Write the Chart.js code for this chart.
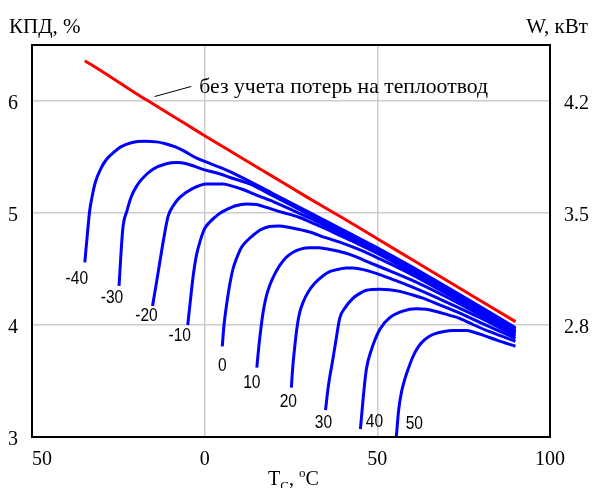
<!DOCTYPE html>
<html>
<head>
<meta charset="utf-8">
<script src="https://cdn.jsdelivr.net/npm/chart.js@4.4.1/dist/chart.umd.min.js"></script>
<style>
html, body { margin: 0; padding: 0; background: #fff; }
</style>
</head>
<body>
<canvas id="chart" width="592" height="497"></canvas>
<script>
// axes
const xTicks = [-50, 0, 50, 100];
const xTickLabels = ['\u200350', '0', '50', '100'];
const leftTicks = [3, 4, 5, 6];
const rightTicks = [2.8, 3.5, 4.2];
const ambientTemps = [-40, -30, -20, -10, 0, 10, 20, 30, 40, 50];

// red: без учета потерь на теплоотвод
const noLoss = [[-34.7, 6.36], [-30, 6.27], [-25, 6.17], [-20, 6.07], [-15, 5.975], [-10, 5.88], [-5, 5.785],
    [0, 5.69], [10, 5.505], [20, 5.32], [30, 5.135], [40, 4.955], [50, 4.77], [60, 4.585], [70, 4.40], [80, 4.215], [90, 4.03]];

// blue: one curve per ambient temperature
const taM40 = [[-34.7, 4.56], [-34.0, 4.80], [-33.3, 5.02], [-32.5, 5.16], [-31.7, 5.27], [-30.0, 5.40], [-28.4, 5.48],
    [-26, 5.55], [-24.3, 5.59], [-21, 5.63], [-17.4, 5.64], [-14, 5.635], [-11.6, 5.62], [-8.5, 5.59], [-5.8, 5.55],
    [-3, 5.50], [0, 5.46], [5, 5.40], [10, 5.33], [20, 5.17], [30, 5.01], [40, 4.85], [50, 4.69], [60, 4.52],
    [70, 4.34], [80, 4.16], [90, 3.975]];
const taM30 = [[-24.8, 4.35], [-23.7, 4.86], [-22.5, 5.02], [-21.2, 5.15], [-19.5, 5.25], [-18.3, 5.30], [-15.0, 5.39],
    [-11.1, 5.44], [-8, 5.45], [-5.3, 5.44], [-0.5, 5.39], [4.3, 5.35], [8, 5.31], [13, 5.26], [20, 5.15], [30, 4.99],
    [40, 4.83], [50, 4.675], [60, 4.505], [70, 4.325], [80, 4.145], [90, 3.965]];
const taM20 = [[-15.1, 4.17], [-14, 4.37], [-13.0, 4.56], [-11.8, 4.78], [-10.6, 4.97], [-9, 5.07], [-7.2, 5.14],
    [-3.4, 5.22], [0.5, 5.26], [5.3, 5.26], [8, 5.24], [11.1, 5.21], [15, 5.16], [20, 5.10], [30, 4.96], [40, 4.81],
    [50, 4.655], [60, 4.49], [70, 4.31], [80, 4.13], [90, 3.95]];
const taM10 = [[-4.9, 4.0], [-4.2, 4.2], [-3.4, 4.42], [-2.4, 4.62], [-1.2, 4.76], [0, 4.86], [1.5, 4.92], [2.9, 4.96],
    [4.5, 5.0], [6.3, 5.03], [9, 5.065], [12.1, 5.08], [15, 5.075], [17.9, 5.05], [22, 5.01], [27.5, 4.96], [32, 4.90],
    [37.1, 4.83], [44, 4.73], [50.6, 4.63], [60, 4.47], [70, 4.29], [80, 4.115], [90, 3.94]];
const ta0 = [[5.1, 3.81], [5.6, 4.0], [6.3, 4.17], [7.2, 4.35], [8.2, 4.50], [9.3, 4.60], [10.6, 4.69], [12.2, 4.75],
    [14.0, 4.80], [16.2, 4.85], [18.8, 4.88], [21.5, 4.885], [24.6, 4.87], [30.4, 4.83], [35, 4.78], [39.1, 4.74],
    [45, 4.67], [50.7, 4.59], [60, 4.45], [70, 4.28], [80, 4.105], [90, 3.93]];
const ta10 = [[15.1, 3.62], [15.5, 3.75], [15.9, 3.87], [16.9, 4.11], [17.8, 4.25], [18.8, 4.35], [20.2, 4.45],
    [21.7, 4.53], [23.5, 4.60], [25.6, 4.65], [28, 4.68], [30.4, 4.69], [33, 4.69], [35.2, 4.68], [38.5, 4.66],
    [42.0, 4.63], [46, 4.58], [50.7, 4.52], [60, 4.40], [70, 4.25], [80, 4.085], [90, 3.92]];
const ta20 = [[25.1, 3.44], [25.5, 3.62], [26.1, 3.81], [26.7, 3.97], [27.5, 4.11], [28.6, 4.21], [29.9, 4.29],
    [31.8, 4.37], [34.3, 4.44], [36.5, 4.48], [39.1, 4.50], [41, 4.51], [43.0, 4.51], [46.5, 4.49], [50.7, 4.45],
    [55, 4.40], [60, 4.34], [70, 4.205], [80, 4.06], [90, 3.90]];
const ta30 = [[35.0, 3.24], [35.8, 3.45], [37.1, 3.69], [38.1, 3.88], [39.1, 4.06], [40.8, 4.16], [43.0, 4.24],
    [44.8, 4.28], [46.8, 4.31], [50.7, 4.32], [53.5, 4.315], [56.5, 4.30], [60, 4.27], [63.2, 4.24], [68, 4.18],
    [72.9, 4.12], [80, 4.02], [90, 3.88]];
const ta40 = [[45.1, 3.07], [45.85, 3.33], [46.8, 3.60], [48.3, 3.78], [50.7, 3.96], [53.6, 4.065], [57.4, 4.124],
    [61.3, 4.145], [64, 4.14], [67.1, 4.12], [70.5, 4.09], [73.8, 4.06], [78, 4.00], [82.5, 3.94], [86, 3.90], [90, 3.855]];
const ta50 = [[55.5, 3.0], [56.17, 3.24], [56.95, 3.395], [57.9, 3.51], [58.86, 3.60], [60.2, 3.71], [61.75, 3.80],
    [63.4, 3.86], [65.1, 3.90], [67, 3.925], [69.0, 3.94], [72, 3.95], [75.8, 3.95], [78, 3.935], [80.6, 3.91],
    [85, 3.86], [90, 3.81]];

const blueCurves = [taM40, taM30, taM20, taM10, ta0, ta10, ta20, ta30, ta40, ta50];

const serif = 'Liberation Serif';
const toPoints = (rows) => rows.map(([x, y]) => ({ x, y }));

const datasets = blueCurves.map((rows, i) => ({
    label: String(ambientTemps[i]),
    data: toPoints(rows),
    borderColor: '#0000ff',
    borderWidth: 3,
    pointRadius: 0,
    showLine: true,
    cubicInterpolationMode: 'monotone'
}));
datasets.push({
    label: 'без учета потерь на теплоотвод',
    data: toPoints(noLoss),
    borderColor: '#ff0000',
    borderWidth: 3,
    pointRadius: 0,
    showLine: true,
    cubicInterpolationMode: 'monotone'
});

// pixel offsets of the temperature labels from the start of each curve
const labelShift = [[-8, 16], [-7, 12], [-6, 10], [-8, 11], [0, 19], [-5, 15], [-3, 14], [-2, 13], [14, -7], [18, -13]];

const decor = {
    id: 'decor',
    afterDatasetsDraw(chart) {
        const { ctx, chartArea: a, scales } = chart;
        ctx.save();

        // frame
        ctx.strokeStyle = '#000';
        ctx.lineWidth = 2;
        ctx.strokeRect(a.left, a.top, a.right - a.left, a.bottom - a.top);

        // temperature labels
        ctx.fillStyle = '#000';
        ctx.font = '19px "Liberation Sans"';
        ctx.textAlign = 'center';
        ctx.textBaseline = 'middle';
        ambientTemps.forEach((t, i) => {
            const p = chart.getDatasetMeta(i).data[0];
            ctx.save();
            ctx.translate(p.x + labelShift[i][0], p.y + labelShift[i][1]);
            ctx.scale(0.82, 1);
            ctx.fillText(String(t), 0, 0);
            ctx.restore();
        });

        // leader + note for the red line
        const x = scales.x, y = scales.y;
        const x0 = x.getPixelForValue(-14.5), y0 = y.getPixelForValue(6.04);
        const x1 = x.getPixelForValue(-3.85), y1 = y.getPixelForValue(6.13);
        ctx.strokeStyle = '#000';
        ctx.lineWidth = 1;
        ctx.beginPath();
        ctx.moveTo(x0, y0);
        ctx.lineTo(x1, y1);
        ctx.stroke();
        ctx.font = '21.7px "' + serif + '"';
        ctx.textAlign = 'left';
        ctx.textBaseline = 'alphabetic';
        ctx.fillText('без учета потерь на теплоотвод', x1 + 8, y1 + 7);

        // axis titles
        ctx.font = '21px "' + serif + '"';
        ctx.fillText('КПД, %', 9, 33);
        ctx.textAlign = 'right';
        ctx.fillText('W, кВт', 588, 33);

        // T_C, °C
        ctx.save();
        ctx.beginPath();
        ctx.rect(0, 440, 592, 48);
        ctx.clip();
        ctx.textAlign = 'left';
        let cx = 268;
        const base = 485;
        ctx.font = '20px "' + serif + '"';
        ctx.fillText('T', cx, base);
        cx += ctx.measureText('T').width;
        ctx.font = '13px "' + serif + '"';
        ctx.fillText('C', cx, base + 5);
        cx += ctx.measureText('C').width;
        ctx.font = '20px "' + serif + '"';
        ctx.fillText(', ', cx, base);
        cx += ctx.measureText(', ').width;
        ctx.font = '13px "' + serif + '"';
        ctx.fillText('o', cx, base - 8);
        cx += ctx.measureText('o').width;
        ctx.font = '20px "' + serif + '"';
        ctx.fillText('C', cx, base);
        ctx.restore();

        ctx.restore();
    }
};

const tickFont = { family: serif, size: 20 };
const gridStyle = { color: '#cccccc', lineWidth: 1.5, drawTicks: false };

new Chart(document.getElementById('chart'), {
    type: 'scatter',
    data: { datasets },
    options: {
        responsive: false,
        animation: false,
        devicePixelRatio: 1,
        layout: { padding: { top: 45, left: 0, right: 0, bottom: 0 } },
        plugins: { legend: { display: false }, tooltip: { enabled: false } },
        scales: {
            x: {
                type: 'linear',
                min: -50,
                max: 100,
                grid: gridStyle,
                border: { display: false },
                afterBuildTicks: (s) => { s.ticks = xTicks.map((v) => ({ value: v })); },
                afterFit: (s) => { s.height = 60; },
                ticks: {
                    font: tickFont,
                    color: '#000',
                    padding: 11,
                    autoSkip: false,
                    maxRotation: 0,
                    callback: (v, i) => xTickLabels[i]
                }
            },
            y: {
                position: 'left',
                min: 3,
                max: 6.5,
                grid: gridStyle,
                border: { display: false },
                afterBuildTicks: (s) => { s.ticks = leftTicks.map((v) => ({ value: v })); },
                afterFit: (s) => { s.width = 32; },
                ticks: { font: tickFont, color: '#000', padding: 14, labelOffset: 3 }
            },
            y2: {
                position: 'right',
                min: 3 * 0.7,
                max: 6.5 * 0.7,
                grid: { display: false, drawTicks: false },
                border: { display: false },
                afterBuildTicks: (s) => { s.ticks = rightTicks.map((v) => ({ value: v })); },
                afterFit: (s) => { s.width = 42; },
                ticks: { font: tickFont, color: '#000', padding: 14, labelOffset: 3, callback: (v) => v.toFixed(1) }
            }
        }
    },
    plugins: [decor]
});
</script>
</body>
</html>
